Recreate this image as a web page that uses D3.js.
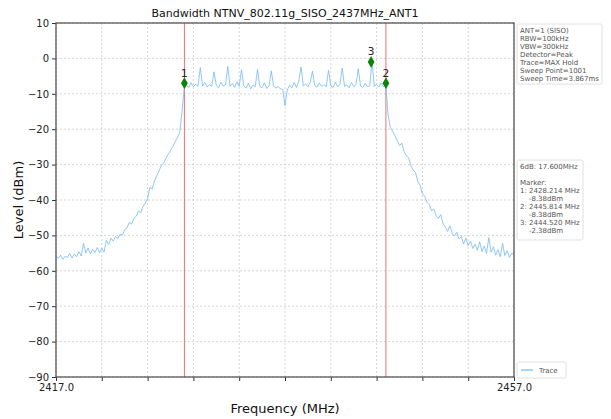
<!DOCTYPE html>
<html><head><meta charset="utf-8">
<script src="https://cdn.jsdelivr.net/npm/d3@7"></script>
<style>body{margin:0;background:#fff;} svg{display:block;font-family:"DejaVu Sans",sans-serif;}</style>
</head><body>
<script>
const title = "Bandwidth NTNV_802.11g_SISO_2437MHz_ANT1";
const startFreq = 2417.0, stepFreq = 0.2;
const levels = [
 -55.8,-56.5,-55.6,-56.8,-55.9,-56.2,-55.1,-56.4,-55.3,-56.0,
 -54.6,-55.8,-52.2,-55.0,-53.6,-55.2,-53.9,-54.8,-53.4,-54.9,-53.6,
 -54.7,-51.4,-52.6,-50.8,-51.6,-50.3,-50.9,-49.6,-49.9,-48.4,
 -47.9,-46.3,-46.8,-45.2,-44.6,-43.1,-43.6,-41.8,-40.9,-39.6,
 -36.4,-36.9,-34.6,-33.2,-31.7,-30.3,-29.6,-28.2,-27.1,-26.0,
 -24.9,-23.6,-22.4,-21.0,-15.2,-8.4,
 -7.6,-8.2,-6.9,-8.0,-7.3,-7.9,-2.6,-7.8,-6.8,-8.1,
 -7.4,-7.9,-3.8,-7.6,-8.3,-6.7,-7.8,-7.5,-2.3,-7.9,
 -7.1,-8.2,-6.6,-7.9,-3.2,-7.7,-8.4,-7.0,-8.6,-7.5,
 -8.0,-3.1,-7.9,-8.3,-6.9,-8.5,-7.8,-3.5,-7.7,-8.4,
 -7.9,-8.6,-8.8,-13.3,-8.9,-7.6,-8.3,-6.8,-8.2,-6.5,
 -2.4,-7.8,-7.2,-8.0,-6.8,-3.6,-7.7,-8.1,-6.9,-7.9,
 -7.4,-8.0,-3.3,-7.8,-8.2,-6.7,-8.0,-7.3,-2.7,-7.9,
 -7.5,-8.3,-6.8,-8.0,-7.4,-2.9,-7.8,-8.2,-7.0,-8.0,
 -7.7,-1.0,-7.9,-7.4,-8.1,-6.9,-8.0,-7.2,
 -16.0,-19.5,-20.6,-21.8,-23.2,-24.6,-24.0,-26.3,-27.5,-28.1,
 -30.4,-31.6,-32.2,-34.8,-35.9,-38.2,-38.9,-40.6,-41.3,-43.0,
 -42.6,-44.4,-45.2,-44.1,-46.7,-47.6,-48.9,-47.3,-49.4,-50.2,
 -49.1,-51.0,-50.3,-52.4,-50.8,-52.9,-51.6,-53.7,-52.5,-54.2,
 -51.8,-54.6,-53.0,-55.1,-50.6,-54.8,-53.2,-55.6,-54.1,-56.0,
 -52.2,-55.7,-54.3,-56.2,-55.0,-55.4
];
const markerIds = ["1","2","3"];
const markerFreqs = [2428.214, 2445.814, 2444.520];
const markerLevels = [-7.0, -7.0, -1.0];
const lineFreqs = [2428.214, 2445.814];
const yTicks = [10,0,-10,-20,-30,-40,-50,-60,-70,-80,-90];
const xTicks = [2417,2421,2425,2429,2433,2437,2441,2445,2449,2453,2457];
const xLabelTicks = [2417, 2457];
const infoLines = ["ANT=1 (SISO)","RBW=100kHz","VBW=300kHz","Detector=Peak","Trace=MAX Hold","Sweep Point=1001","Sweep Time=3.867ms"];
const markerLines = ["6dB: 17.600MHz","","Marker:","1: 2428.214 MHz","    -8.38dBm","2: 2445.814 MHz","    -8.38dBm","3: 2444.520 MHz","    -2.38dBm"];

const W=611,H=419, L=56,R=514,T=23,B=377;
const svg=d3.select("body").append("svg").attr("width",W).attr("height",H);
const x=d3.scaleLinear().domain([2417,2457]).range([L,R]);
const y=d3.scaleLinear().domain([-90,10]).range([B,T]);
const data=levels.map((v,i)=>({f:startFreq+i*stepFreq,v}));

const g=svg.append("g");
g.selectAll("line.hg").data(yTicks).join("line").attr("x1",L).attr("x2",R)
 .attr("y1",d=>y(d)).attr("y2",d=>y(d)).attr("stroke","#c4c4c4").attr("stroke-width",0.7).attr("stroke-dasharray","2,2");
g.selectAll("line.vg").data(xTicks).join("line").attr("y1",T).attr("y2",B)
 .attr("x1",d=>x(d)).attr("x2",d=>x(d)).attr("stroke","#c4c4c4").attr("stroke-width",0.7).attr("stroke-dasharray","2,2");

svg.selectAll("line.red").data(lineFreqs).join("line").attr("x1",d=>x(d)).attr("x2",d=>x(d))
 .attr("y1",T).attr("y2",B).attr("stroke","#f07070").attr("stroke-width",1);

svg.append("path").datum(data).attr("fill","none").attr("stroke","#74b9f2").attr("stroke-width",0.8)
 .attr("d",d3.line().x(d=>x(d.f)).y(d=>y(d.v)));

const mk=markerIds.map((id,i)=>({id,f:markerFreqs[i],v:markerLevels[i]}));
svg.selectAll("path.mk").data(mk).join("path")
 .attr("d",d3.symbol().type(d3.symbolDiamond).size(40))
 .attr("transform",d=>`translate(${x(d.f)},${y(d.v)})`).attr("fill","#0a850a");
svg.selectAll("text.mk").data(mk).join("text").attr("x",d=>x(d.f)).attr("y",d=>y(d.v)-6.5)
 .attr("text-anchor","middle").attr("font-size",10.5).attr("fill","#222").text(d=>d.id);

const ya=d3.axisLeft(y).tickValues(yTicks).tickSize(4).tickFormat(d=>d<0?"\u2212"+Math.abs(d):d);
const yg=svg.append("g").attr("transform",`translate(${L},0)`).call(ya);
yg.select(".domain").remove();
yg.selectAll("text").attr("font-size",10).attr("fill","#222").attr("font-family","DejaVu Sans");
yg.selectAll("line").attr("stroke","#333");
const xa=d3.axisBottom(x).tickValues(xTicks).tickSize(4).tickFormat(d=>xLabelTicks.includes(d)?d.toFixed(1):"");
const xg=svg.append("g").attr("transform",`translate(0,${B})`).call(xa);
xg.select(".domain").remove();
xg.selectAll("text").attr("font-size",10).attr("fill","#222").attr("font-family","DejaVu Sans");
xg.selectAll("line").attr("stroke","#333");

svg.append("rect").attr("x",L).attr("y",T).attr("width",R-L).attr("height",B-T)
 .attr("fill","none").attr("stroke","#555").attr("stroke-width",1.3);

svg.append("text").attr("x",(L+R)/2).attr("y",17).attr("text-anchor","middle").attr("font-size",11).attr("fill","#111").text(title);
svg.append("text").attr("x",(L+R)/2).attr("y",413).attr("text-anchor","middle").attr("font-size",13).attr("fill","#111").text("Frequency (MHz)");
svg.append("text").attr("transform",`translate(23,${(T+B)/2}) rotate(-90)`).attr("text-anchor","middle").attr("font-size",13).attr("fill","#111").text("Level (dBm)");

function box(x0,y0,w,h,lines,first){
 svg.append("rect").attr("x",x0).attr("y",y0).attr("width",w).attr("height",h).attr("rx",1.5)
  .attr("fill","#fff").attr("stroke","#d8d8d8").attr("stroke-width",0.8);
 svg.append("g").selectAll("text").data(lines).join("text").attr("x",x0+3).attr("y",(d,i)=>first+i*8)
  .attr("font-size",7).attr("fill","#555").attr("xml:space","preserve").style("white-space","pre").text(d=>d);
}
box(517,24,85,60,infoLines,32.5);
box(517,160,66,80,markerLines,168.5);

svg.append("rect").attr("x",517).attr("y",362).attr("width",49).attr("height",16).attr("rx",1.5)
 .attr("fill","#fff").attr("stroke","#d8d8d8").attr("stroke-width",0.8);
svg.append("line").attr("x1",521).attr("x2",533).attr("y1",370).attr("y2",370).attr("stroke","#74b9f2").attr("stroke-width",1.2);
svg.append("text").attr("x",539).attr("y",372.5).attr("font-size",7).attr("fill","#555").text("Trace");
</script>
</body></html>
